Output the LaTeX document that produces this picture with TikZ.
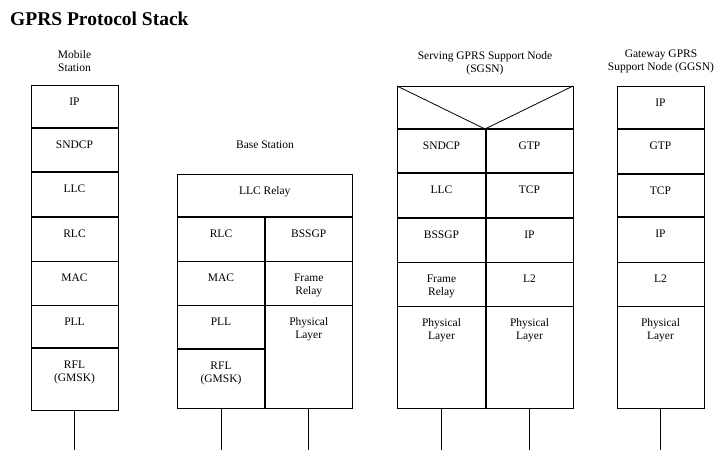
\documentclass[tikz,border=0pt]{standalone}
\usepackage{fontspec}
\setmainfont{Liberation Serif}
\usetikzlibrary{positioning}
\newcommand{\stackfont}{\fontsize{11.5}{13}\selectfont}

\begin{document}
\begin{tikzpicture}[x=1pt,y=-1pt,
    layerbox/.style={draw, line width=0.8pt, inner sep=0pt, outer sep=0pt,
      minimum width=87},
    halfbox/.style={layerbox, minimum width=88},
    layertext/.style={label={[font=\stackfont, align=center, anchor=north,
      yshift=-10.5pt, inner sep=2pt]north:#1}},
    headtext/.style={font=\stackfont, align=center},
    thicksep/.style={line width=1.8pt},
    wire/.style={line width=0.8pt}]
    \useasboundingbox (0,0) rectangle (720,450);

    \node[anchor=base west, inner sep=0pt, font=\fontsize{19.5}{23}\selectfont\bfseries] (title) at (10,25) {GPRS Protocol Stack};

    % Mobile Station
    \node[headtext] (msHead) at (74.5,61.5) {Mobile\\Station};
    \node[layerbox, minimum height=43, anchor=north, layertext=IP] (msIP) at (74.5,85) {};
    \node[layerbox, minimum height=44, below=0pt of msIP, layertext=SNDCP] (msSNDCP) {};
    \node[layerbox, minimum height=45, below=0pt of msSNDCP, layertext=LLC] (msLLC) {};
    \node[layerbox, minimum height=44, below=0pt of msLLC, layertext=RLC] (msRLC) {};
    \node[layerbox, minimum height=44, below=0pt of msRLC, layertext=MAC] (msMAC) {};
    \node[layerbox, minimum height=43, below=0pt of msMAC, layertext=PLL] (msPLL) {};
    \node[layerbox, minimum height=62, below=0pt of msPLL, layertext={RFL\\(GMSK)}] (msRFL) {};

    % Base Station
    \node[headtext] (bsHead) at (265,145) {Base Station};
    \node[layerbox, minimum width=175.5, minimum height=43, anchor=north, layertext=LLC Relay] (bsRelay) at (264.75,174) {};
    \node[halfbox, minimum height=44, anchor=north west, layertext=RLC] (bsRLC) at (bsRelay.south west) {};
    \node[halfbox, minimum height=44, below=0pt of bsRLC, layertext=MAC] (bsMAC) {};
    \node[halfbox, minimum height=44, below=0pt of bsMAC, layertext=PLL] (bsPLL) {};
    \node[halfbox, minimum height=59, below=0pt of bsPLL, layertext={RFL\\(GMSK)}] (bsRFL) {};
    \node[layerbox, minimum width=87.5, minimum height=44, anchor=north east, layertext=BSSGP] (bsBSSGP) at (bsRelay.south east) {};
    \node[layerbox, minimum width=87.5, minimum height=44, below=0pt of bsBSSGP, layertext={Frame\\Relay}] (bsFrame) {};
    \node[layerbox, minimum width=87.5, minimum height=103, below=0pt of bsFrame, layertext={Physical\\Layer}] (bsPhys) {};

    % Serving GPRS Support Node
    \node[headtext] (sgHead) at (485,63.5) {Serving GPRS Support Node\\(SGSN)};
    \node[layerbox, minimum width=176, minimum height=43, anchor=north] (sgTop) at (485,86) {};
    \node[layerbox, minimum width=89, minimum height=44, anchor=north west, layertext=SNDCP] (sgSNDCP) at (sgTop.south west) {};
    \node[layerbox, minimum width=89, minimum height=45, below=0pt of sgSNDCP, layertext=LLC] (sgLLC) {};
    \node[layerbox, minimum width=89, minimum height=44, below=0pt of sgLLC, layertext=BSSGP] (sgBSSGP) {};
    \node[layerbox, minimum width=89, minimum height=44, below=0pt of sgBSSGP, layertext={Frame\\Relay}] (sgFrame) {};
    \node[layerbox, minimum width=89, minimum height=102, below=0pt of sgFrame, layertext={Physical\\Layer}] (sgPhysL) {};
    \node[layerbox, minimum height=44, anchor=north east, layertext=GTP] (sgGTP) at (sgTop.south east) {};
    \node[layerbox, minimum height=45, below=0pt of sgGTP, layertext=TCP] (sgTCP) {};
    \node[layerbox, minimum height=44, below=0pt of sgTCP, layertext=IP] (sgIP) {};
    \node[layerbox, minimum height=44, below=0pt of sgIP, layertext=L2] (sgL2) {};
    \node[layerbox, minimum height=102, below=0pt of sgL2, layertext={Physical\\Layer}] (sgPhysR) {};

    % Gateway GPRS Support Node
    \node[headtext] (ggHead) at (661,61) {Gateway GPRS\\Support Node (GGSN)};
    \node[layerbox, minimum height=43, anchor=north, layertext=IP] (ggIP) at (660.5,86) {};
    \node[layerbox, minimum height=45, below=0pt of ggIP, layertext=GTP] (ggGTP) {};
    \node[layerbox, minimum height=43, below=0pt of ggGTP, layertext=TCP] (ggTCP) {};
    \node[layerbox, minimum height=45, below=0pt of ggTCP, layertext=IP] (ggIP2) {};
    \node[layerbox, minimum height=44, below=0pt of ggIP2, layertext=L2] (ggL2) {};
    \node[layerbox, minimum height=102, below=0pt of ggL2, layertext={Physical\\Layer}] (ggPhys) {};

    % heavy borders
    \draw[thicksep] (msIP.south west) -- (msIP.south east);
    \draw[thicksep] (msSNDCP.south west) -- (msSNDCP.south east);
    \draw[thicksep] (msLLC.south west) -- (msLLC.south east);
    \draw[thicksep] (msPLL.south west) -- (msPLL.south east);
    \draw[thicksep] (bsRelay.south west) -- (bsRelay.south east);
    \draw[thicksep] (bsRLC.north east) -- (bsRFL.south east);
    \draw[thicksep] (bsPLL.south west) -- (bsPLL.south east);
    \draw[thicksep] (sgTop.south west) -- (sgTop.south east);
    \draw[thicksep] (sgSNDCP.south west) -- (sgGTP.south east);
    \draw[thicksep] (sgLLC.south west) -- (sgTCP.south east);
    \draw[thicksep] (sgSNDCP.north east) -- (sgPhysL.south east);
    \draw[thicksep] (ggIP.south west) -- (ggIP.south east);
    \draw[thicksep] (ggGTP.south west) -- (ggGTP.south east);
    \draw[thicksep] (ggTCP.south west) -- (ggTCP.south east);
    \draw[wire] (sgTop.north west) -- (sgTop.south) -- (sgTop.north east);

    % links down
    \coordinate[below=40pt of msRFL.south] (msEnd);
    \coordinate[below=42pt of bsRFL.south] (bsEndL);
    \coordinate[below=42pt of bsPhys.south] (bsEndR);
    \coordinate[below=42pt of sgPhysL.south] (sgEndL);
    \coordinate[below=42pt of sgPhysR.south] (sgEndR);
    \coordinate[below=42pt of ggPhys.south] (ggEnd);
    \draw[wire] (msRFL) -- (msEnd);
    \draw[wire] (bsRFL) -- (bsEndL);
    \draw[wire] (bsPhys) -- (bsEndR);
    \draw[wire] (sgPhysL) -- (sgEndL);
    \draw[wire] (sgPhysR) -- (sgEndR);
    \draw[wire] (ggPhys) -- (ggEnd);
\end{tikzpicture}
\end{document}
